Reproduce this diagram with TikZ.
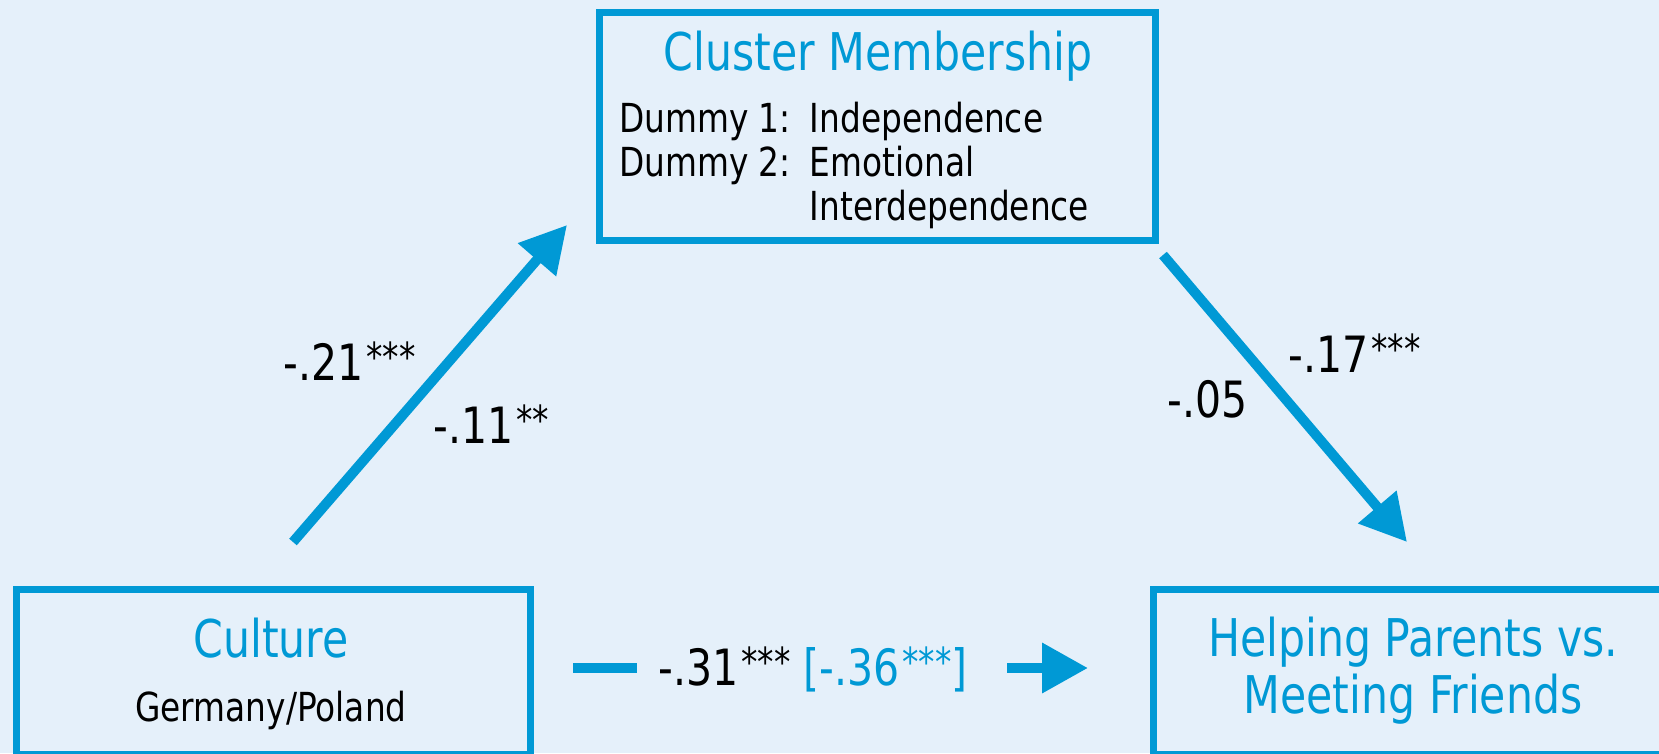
\documentclass[tikz,border=0pt]{standalone}
\usepackage{fontspec}
\setmainfont{DejaVu Sans}[FakeStretch=0.82]
\usetikzlibrary{arrows.meta}

\definecolor{medblue}{RGB}{0,153,213}
\definecolor{paneblue}{RGB}{229,240,250}

\newcommand{\stars}[1]{\hspace{3pt}\raisebox{9pt}{\fontsize{40}{40}\selectfont #1}}

\begin{document}
\begin{tikzpicture}[x=1pt, y=-1pt,
    box/.style={draw=medblue, line width=7pt, inner sep=0pt},
    title/.style={text=medblue, font=\fontsize{52}{58}\selectfont, inner sep=0pt, anchor=base},
    sub/.style={font=\fontsize{40}{44}\selectfont, inner sep=0pt, anchor=base},
    coef/.style={font=\fontsize{50}{56}\selectfont, inner sep=0pt, anchor=base west},
    effect/.style={medblue, line width=10pt},
    effecthead/.style={effect, -{Triangle[length=46pt,width=48pt]}}]

    % Background
    \useasboundingbox (0,0) rectangle (1659,753);
    \fill[paneblue] (0,0) rectangle (1659,753);

    % Boxes
    \node[box, minimum width=556pt, minimum height=228pt] (cluster) at (877,126) {};
    \node[box, minimum width=514pt, minimum height=165pt] (culture) at (273,671.5) {};
    \node[box, minimum width=547pt, minimum height=165pt] (helping) at (1426.5,671.5) {};

    % Box texts
    \node[title] (clustertitle) at (878,70) {Cluster Membership};
    \node[sub, anchor=base west] (dummies) at (619,132)
        {\begin{tabular}[t]{@{}l@{\hspace{19pt}}l@{}}
            Dummy 1: & Independence\\
            Dummy 2: & Emotional\\
                     & Interdependence
         \end{tabular}};
    \node[title] (culturetitle) at (271,657) {Culture};
    \node[sub] (countries) at (271,721) {Germany/Poland};
    \node[title] (helpingtitle) at (1413,656) {Helping Parents vs.};
    \node[title] (helpingtitleb) at (1413,713) {Meeting Friends};

    % Paths
    \coordinate (a-tail) at (293,542);
    \coordinate (a-tip) at (567,225);
    \coordinate (b-tail) at (1163,255);
    \coordinate (b-tip) at (1407,542);
    \coordinate (c-start) at (573,668);
    \coordinate (c-stop) at (637,668);
    \coordinate (c-tail) at (1007,668);
    \coordinate (c-tip) at (1088,668);

    \draw[effecthead] (a-tail) -- (a-tip);
    \draw[effecthead] (b-tail) -- (b-tip);
    \draw[effect] (c-start) -- (c-stop);
    \draw[effecthead] (c-tail) -- (c-tip);

    % Coefficients
    \node[coef] (a1) at (283,380) {-.21\stars{***}};
    \node[coef] (a2) at (433,443) {-.11\stars{**}};
    \node[coef] (b1) at (1288,372) {-.17\stars{***}};
    \node[coef] (b2) at (1167,417) {-.05};
    \node[coef] (c1) at (658,685) {-.31\stars{***} {\color{medblue}[-.36\stars{***}]}};

\end{tikzpicture}
\end{document}
